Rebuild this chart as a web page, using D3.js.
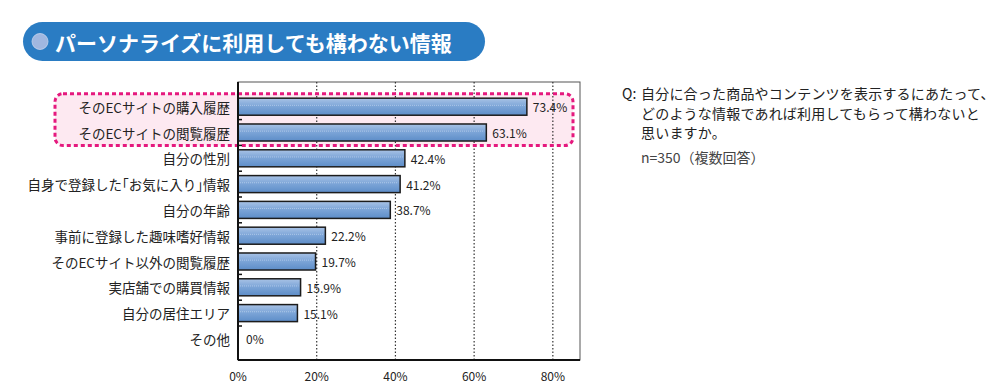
<!DOCTYPE html>
<html>
<head>
<meta charset="utf-8">
<script src="https://cdnjs.cloudflare.com/ajax/libs/d3/7.8.5/d3.min.js"></script>
<style>
  html, body { margin: 0; padding: 0; background: #fff; }
  svg { display: block; font-family: "Noto Sans CJK JP", "Noto Sans", sans-serif; }
  .halt { font-feature-settings: "halt"; }
</style>
</head>
<body>
<svg id="chart" width="1000" height="391"></svg>
<script>
const title = "パーソナライズに利用しても構わない情報";
const categories = [
  "そのECサイトの購入履歴",
  "そのECサイトの閲覧履歴",
  "自分の性別",
  "自身で登録した「お気に入り」情報",
  "自分の年齢",
  "事前に登録した趣味嗜好情報",
  "そのECサイト以外の閲覧履歴",
  "実店舗での購買情報",
  "自分の居住エリア",
  "その他"
];
const values = [73.4, 63.1, 42.4, 41.2, 38.7, 22.2, 19.7, 15.9, 15.1, 0];
const valueLabels = ["73.4%", "63.1%", "42.4%", "41.2%", "38.7%", "22.2%", "19.7%", "15.9%", "15.1%", "0%"];
const xTicks = [0, 20, 40, 60, 80];
const xTickLabels = ["0%", "20%", "40%", "60%", "80%"];
const highlighted = ["そのECサイトの購入履歴", "そのECサイトの閲覧履歴"];
const questionLines = [
  "自分に合った商品やコンテンツを表示するにあたって、",
  "どのような情報であれば利用してもらって構わないと",
  "思いますか。"
];
const sampleNote = "n=350（複数回答）";

const svg = d3.select("#chart");

// Layout
const plot = { left: 238, right: 580, top: 82, bottom: 360 };
const x = d3.scaleLinear().domain([0, 86.9]).range([plot.left, plot.right]);
const y = d3.scaleBand().domain(categories).range([93.8, 351.8]).paddingInner(0.34).paddingOuter(0.17);
const step = y.step();

// Gradient
const defs = svg.append("defs");
const grad = defs.append("linearGradient").attr("id", "barGrad").attr("x1", 0).attr("y1", 0).attr("x2", 0).attr("y2", 1);
grad.append("stop").attr("offset", "0%").attr("stop-color", "#a9c3e6");
grad.append("stop").attr("offset", "45%").attr("stop-color", "#7ea6d8");
grad.append("stop").attr("offset", "100%").attr("stop-color", "#5d8dc8");

// Title banner
const banner = svg.append("g");
banner.append("rect")
  .attr("x", 23).attr("y", 22).attr("width", 462).attr("height", 39)
  .attr("rx", 19.5).attr("ry", 19.5)
  .attr("fill", "#2a7cc3");
banner.append("circle").attr("cx", 40).attr("cy", 41.5).attr("r", 8)
  .attr("fill", "#a0b7e0").attr("stroke", "#c7d4ee").attr("stroke-width", 0.8);
banner.append("text")
  .attr("x", 55).attr("y", 41.5)
  .attr("dominant-baseline", "central")
  .attr("fill", "#fff").attr("font-size", 21).attr("font-weight", "bold")
  .text(title);

// Highlight box
const hiTop = y(highlighted[0]) - 4.5;
const hiBottom = y(highlighted[1]) + y.bandwidth() + 4.5;
svg.append("rect")
  .attr("x", 55).attr("y", hiTop)
  .attr("width", 573 - 55).attr("height", hiBottom - hiTop)
  .attr("rx", 8).attr("ry", 8)
  .attr("fill", "#fde9f1");

// Plot frame (top/right)
svg.append("rect")
  .attr("x", plot.left).attr("y", plot.top)
  .attr("width", plot.right - plot.left).attr("height", plot.bottom - plot.top)
  .attr("fill", "none").attr("stroke", "#555").attr("stroke-width", 1);

// Gridlines
svg.append("g").selectAll("line").data(xTicks.filter(d => d > 0)).join("line")
  .attr("x1", d => x(d)).attr("x2", d => x(d))
  .attr("y1", plot.top).attr("y2", plot.bottom)
  .attr("stroke", "#333").attr("stroke-width", 1.2).attr("stroke-dasharray", "1.5,2");

// Highlight dashed border (over gridlines)
svg.append("rect")
  .attr("x", 55).attr("y", hiTop)
  .attr("width", 573 - 55).attr("height", hiBottom - hiTop)
  .attr("rx", 8).attr("ry", 8)
  .attr("fill", "none").attr("stroke", "#e5197e").attr("stroke-width", 3)
  .attr("stroke-dasharray", "4,3");

// Bars
svg.append("g").selectAll("rect").data(categories).join("rect")
  .attr("x", plot.left)
  .attr("y", d => y(d))
  .attr("width", (d, i) => x(values[i]) - x(0))
  .attr("height", y.bandwidth())
  .attr("fill", "url(#barGrad)")
  .attr("stroke", (d, i) => values[i] > 0 ? "#1c1c1c" : "none")
  .attr("stroke-width", 1.5);

// Subtle dotted highlight line inside bars
svg.append("g").selectAll("line").data(categories.filter((d, i) => values[i] > 0)).join("line")
  .attr("x1", plot.left + 2)
  .attr("x2", d => x(values[categories.indexOf(d)]) - 2)
  .attr("y1", d => y(d) + y.bandwidth() * 0.42)
  .attr("y2", d => y(d) + y.bandwidth() * 0.42)
  .attr("stroke", "#b9cfec").attr("stroke-width", 1).attr("stroke-dasharray", "1,1").attr("opacity", 0.8);

// Value labels
svg.append("g").selectAll("text").data(categories).join("text")
  .attr("x", (d, i) => x(values[i]) + (values[i] > 0 ? 6 : 8))
  .attr("y", d => y(d) + y.bandwidth() / 2)
  .attr("dominant-baseline", "central")
  .attr("font-size", 12).attr("fill", "#222")
  .text((d, i) => valueLabels[i]);

// Left axis line and ticks
svg.append("line")
  .attr("x1", plot.left).attr("x2", plot.left)
  .attr("y1", plot.top).attr("y2", plot.bottom)
  .attr("stroke", "#111").attr("stroke-width", 2);
svg.append("line")
  .attr("x1", plot.left).attr("x2", plot.right)
  .attr("y1", plot.bottom).attr("y2", plot.bottom)
  .attr("stroke", "#111").attr("stroke-width", 2);
svg.append("g").selectAll("line").data(categories.slice(0, -1)).join("line")
  .attr("x1", plot.left).attr("x2", plot.left + 4)
  .attr("y1", d => y(d) + y.bandwidth() / 2 + step / 2)
  .attr("y2", d => y(d) + y.bandwidth() / 2 + step / 2)
  .attr("stroke", "#111").attr("stroke-width", 1.5);

// Category labels
svg.append("g").selectAll("text").data(categories).join("text")
  .attr("class", "halt")
  .attr("x", 230)
  .attr("y", d => y(d) + y.bandwidth() / 2)
  .attr("dominant-baseline", "central")
  .attr("text-anchor", "end")
  .attr("font-size", 13.5).attr("fill", "#222")
  .text(d => d);

// X tick labels
svg.append("g").selectAll("text").data(xTicks).join("text")
  .attr("x", d => x(d))
  .attr("y", 375)
  .attr("dominant-baseline", "central")
  .attr("text-anchor", "middle")
  .attr("font-size", 12).attr("fill", "#222")
  .text((d, i) => xTickLabels[i]);

// Question text
const q = svg.append("g").attr("font-size", 14).attr("fill", "#222");
q.append("text").attr("x", 622).attr("y", 93).attr("dominant-baseline", "central").text("Q:");
q.selectAll("text.line").data(questionLines).join("text")
  .attr("class", "line")
  .attr("x", 641).attr("y", (d, i) => 93 + i * 19.5)
  .attr("dominant-baseline", "central")
  .attr("letter-spacing", 0.2)
  .text(d => d);
q.append("text").attr("x", 641).attr("y", 157).attr("dominant-baseline", "central")
  .attr("fill", "#444").text(sampleNote);
</script>
</body>
</html>
